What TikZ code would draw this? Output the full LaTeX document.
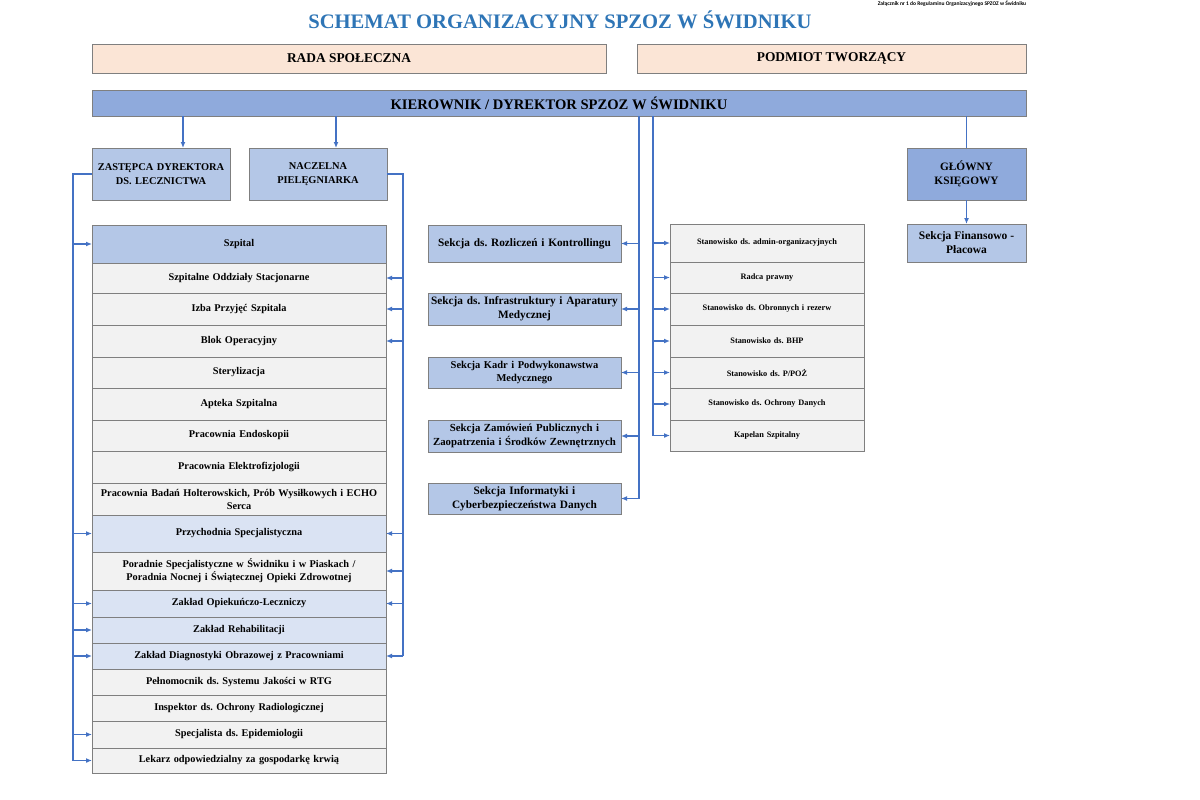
\documentclass[tikz,border=0pt]{standalone}
\usepackage{fontspec}
\setmainfont{Liberation Serif}
\newfontfamily\notefont{Carlito}
\usepackage{tikz}
\usetikzlibrary{arrows.meta,positioning,calc}
\frenchspacing

\definecolor{titleblue}{HTML}{2E75B6}
\definecolor{linkblue}{HTML}{4472C4}
\definecolor{boxgray}{HTML}{7F7F7F}
\definecolor{peachfill}{HTML}{FBE5D6}
\definecolor{headfill}{HTML}{8FAADC}
\definecolor{subfill}{HTML}{B4C7E7}
\definecolor{unitfill}{HTML}{DAE3F3}
\definecolor{rowfill}{HTML}{F2F2F2}

\tikzset{
  box/.style={draw=boxgray, line width=0.8pt, outer sep=0pt, inner sep=1pt, align=center, text=black},
  peach/.style={box, fill=peachfill, minimum height=29, font=\fontsize{13.4}{16}\selectfont\bfseries},
  head/.style={box, fill=headfill},
  mgr/.style={box, fill=subfill, minimum width=138, minimum height=52, text width=134, font=\fontsize{10.4}{13.5}\selectfont\bfseries},
  row/.style={box, fill=rowfill, minimum width=294, text width=290, font=\fontsize{10.3}{13}\selectfont\bfseries},
  unit/.style={row, fill=unitfill},
  sect/.style={box, fill=subfill, minimum width=193, text width=191, font=\fontsize{11.3}{14}\selectfont\bfseries},
  post/.style={box, fill=rowfill, minimum width=194, text width=190, font=\fontsize{8.3}{10.5}\selectfont\bfseries},
  link/.style={draw=linkblue, line width=1.7pt},
  arr/.style={link, -{Latex[length=6pt,width=5pt]}},
}

\begin{document}
\begin{tikzpicture}[x=1pt, y=-1pt]
\fill[white] (0,0) rectangle (1200,800);
\useasboundingbox (0,0) rectangle (1200,800);

% header
\node[text=titleblue, font=\fontsize{20.6}{24}\selectfont\bfseries] (title) at (560,20) {SCHEMAT ORGANIZACYJNY SPZOZ W ŚWIDNIKU};
\node[font=\notefont\fontsize{5.5}{6}\selectfont\bfseries] (note) at (952,3.5) {Załącznik nr 1 do Regulaminu Organizacyjnego SPZOZ w Świdniku};

\node[peach, minimum width=514] (rada) at (349,58.5) {RADA SPOŁECZNA};
\node[peach, minimum width=389] (podmiot) at (831.5,58.5) {PODMIOT TWORZĄCY};
\node[head, minimum width=934, minimum height=26, font=\fontsize{14.6}{17}\selectfont\bfseries] (kier) at (559,103) {KIEROWNIK / DYREKTOR SPZOZ W ŚWIDNIKU};

\node[mgr] (zast) at (161,174) {ZASTĘPCA DYREKTORA\\DS. LECZNICTWA};
\node[mgr, right=19pt of zast] (nacz) {NACZELNA\\PIELĘGNIARKA};
\node[head, minimum width=119, minimum height=52, font=\fontsize{11.3}{14}\selectfont\bfseries] (glowny) at (966.5,174) {GŁÓWNY\\KSIĘGOWY};
\node[box, fill=subfill, minimum width=119, minimum height=38, font=\fontsize{11.5}{14}\selectfont\bfseries, below=24pt of glowny] (finans) {Sekcja Finansowo -\\Płacowa};

% szpital i jednostki
\node[row, fill=subfill, minimum height=38] (szpital) at (239,244) {Szpital};
\node[row, minimum height=30, below=0pt of szpital] (oddz) {Szpitalne Oddziały Stacjonarne};
\node[row, minimum height=32, below=0pt of oddz] (izba) {Izba Przyjęć Szpitala};
\node[row, minimum height=32, below=0pt of izba] (blok) {Blok Operacyjny};
\node[row, minimum height=31, below=0pt of blok] (steryl) {Sterylizacja};
\node[row, minimum height=32, below=0pt of steryl] (apteka) {Apteka Szpitalna};
\node[row, minimum height=31, below=0pt of apteka] (endo) {Pracownia Endoskopii};
\node[row, minimum height=32, below=0pt of endo] (elektro) {Pracownia Elektrofizjologii};
\node[row, minimum height=32, below=0pt of elektro] (holter) {Pracownia Badań Holterowskich, Prób Wysiłkowych i ECHO\\Serca};
\node[unit, minimum height=37, below=0pt of holter] (przych) {Przychodnia Specjalistyczna};
\node[row, minimum height=38, below=0pt of przych] (poradnie) {Poradnie Specjalistyczne w Świdniku i w Piaskach /\\Poradnia Nocnej i Świątecznej Opieki Zdrowotnej};
\node[unit, minimum height=27, below=0pt of poradnie] (opiek) {Zakład Opiekuńczo-Leczniczy};
\node[unit, minimum height=26, below=0pt of opiek] (rehab) {Zakład Rehabilitacji};
\node[unit, minimum height=26, below=0pt of rehab] (diagn) {Zakład Diagnostyki Obrazowej z Pracowniami};
\node[row, minimum height=26, below=0pt of diagn] (pelnom) {Pełnomocnik ds. Systemu Jakości w RTG};
\node[row, minimum height=26, below=0pt of pelnom] (inspekt) {Inspektor ds. Ochrony Radiologicznej};
\node[row, minimum height=27, below=0pt of inspekt] (epidem) {Specjalista ds. Epidemiologii};
\node[row, minimum height=25, below=0pt of epidem] (lekarz) {Lekarz odpowiedzialny za gospodarkę krwią};

% sekcje
\node[sect, minimum height=37] (rozl) at (524.5,243.5) {Sekcja ds. Rozliczeń i Kontrollingu};
\node[sect, minimum height=32, below=31pt of rozl] (infra) {Sekcja ds. Infrastruktury i Aparatury\\Medycznej};
\node[sect, minimum height=31, below=32pt of infra, font=\fontsize{10.5}{13.5}\selectfont\bfseries] (kadr) {Sekcja Kadr i Podwykonawstwa\\Medycznego};
\node[sect, minimum height=32, below=32pt of kadr, font=\fontsize{10.8}{13.5}\selectfont\bfseries] (zamow) {Sekcja Zamówień Publicznych i\\Zaopatrzenia i Środków Zewnętrznych};
\node[sect, minimum height=31, below=31pt of zamow] (info) {Sekcja Informatyki i\\Cyberbezpieczeństwa Danych};

% stanowiska
\node[post, minimum height=38] (admin) at (767,243) {Stanowisko ds. admin-organizacyjnych};
\node[post, minimum height=31, below=0pt of admin] (radca) {Radca prawny};
\node[post, minimum height=32, below=0pt of radca] (obron) {Stanowisko ds. Obronnych i rezerw};
\node[post, minimum height=32, below=0pt of obron] (bhp) {Stanowisko ds. BHP};
\node[post, minimum height=31, below=0pt of bhp] (ppoz) {Stanowisko ds. P/POŻ};
\node[post, minimum height=32, below=0pt of ppoz] (ochr) {Stanowisko ds. Ochrony Danych};
\node[post, minimum height=31, below=0pt of ochr] (kapelan) {Kapelan Szpitalny};

% polaczenia
\coordinate (zin) at ($(zast.north)+(22,0)$);
\coordinate (nin) at ($(nacz.north)+(18,0)$);
\coordinate (lbus) at (73,0);
\coordinate (rbus) at (403,0);
\coordinate (mbusl) at (639,0);
\coordinate (mbusr) at (653,0);

\draw [arr] (kier.south -| zin) -- (zin);
\draw [arr] (kier.south -| nin) -- (nin);
\draw [link] (kier.south -| glowny.north) -- (glowny.north);
\draw [arr] (glowny) -- (finans);

\draw [link] (zast.west) -- (zast.west -| lbus) -- (lekarz.west -| lbus);
\draw [arr] (szpital.west -| lbus) -- (szpital.west);
\draw [arr] (przych.west -| lbus) -- (przych.west);
\draw [arr] (opiek.west -| lbus) -- (opiek.west);
\draw [arr] (rehab.west -| lbus) -- (rehab.west);
\draw [arr] (diagn.west -| lbus) -- (diagn.west);
\draw [arr] (epidem.west -| lbus) -- (epidem.west);
\draw [arr] (lekarz.west -| lbus) -- (lekarz.west);

\draw [link] (nacz.east) -- (nacz.east -| rbus) -- (diagn.east -| rbus);
\draw [arr] (oddz.east -| rbus) -- (oddz.east);
\draw [arr] (izba.east -| rbus) -- (izba.east);
\draw [arr] (blok.east -| rbus) -- (blok.east);
\draw [arr] (przych.east -| rbus) -- (przych.east);
\draw [arr] (poradnie.east -| rbus) -- (poradnie.east);
\draw [arr] (opiek.east -| rbus) -- (opiek.east);
\draw [arr] (diagn.east -| rbus) -- (diagn.east);

\draw [link] (kier.south -| mbusl) -- (info.east -| mbusl);
\draw [arr] (rozl.east -| mbusl) -- (rozl.east);
\draw [arr] (infra.east -| mbusl) -- (infra.east);
\draw [arr] (kadr.east -| mbusl) -- (kadr.east);
\draw [arr] (zamow.east -| mbusl) -- (zamow.east);
\draw [arr] (info.east -| mbusl) -- (info.east);

\draw [link] (kier.south -| mbusr) -- (kapelan.west -| mbusr);
\draw [arr] (admin.west -| mbusr) -- (admin.west);
\draw [arr] (radca.west -| mbusr) -- (radca.west);
\draw [arr] (obron.west -| mbusr) -- (obron.west);
\draw [arr] (bhp.west -| mbusr) -- (bhp.west);
\draw [arr] (ppoz.west -| mbusr) -- (ppoz.west);
\draw [arr] (ochr.west -| mbusr) -- (ochr.west);
\draw [arr] (kapelan.west -| mbusr) -- (kapelan.west);
\end{tikzpicture}
\end{document}
